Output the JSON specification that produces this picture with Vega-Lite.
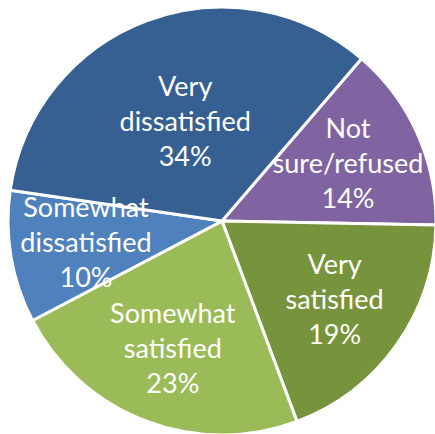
{
  "$schema": "https://vega.github.io/schema/vega-lite/v6.json",
  "width": 426,
  "height": 426,
  "autosize": {"type": "none"},
  "padding": {"left": 9, "top": 8, "right": 0, "bottom": 0},
  "background": "white",
  "data": {
    "values": [
      {"category": "Not sure/refused", "pct": 14, "rank": 1, "label": ["Not", "sure/refused", "14%"]},
      {"category": "Very satisfied", "pct": 19, "rank": 2, "label": ["Very", "satisfied", "19%"]},
      {"category": "Somewhat satisfied", "pct": 23, "rank": 3, "label": ["Somewhat", "satisfied", "23%"]},
      {"category": "Somewhat dissatisfied", "pct": 10, "rank": 4, "label": ["Somewhat", "dissatisfied", "10%"]},
      {"category": "Very dissatisfied", "pct": 34, "rank": 5, "label": ["Very", "dissatisfied", "34%"]}
    ]
  },
  "encoding": {
    "theta": {"field": "pct", "type": "quantitative", "stack": true, "scale": {"range": [0.71, 6.9932]}},
    "order": {"field": "rank", "type": "quantitative", "sort": "ascending"},
    "color": {
      "field": "category",
      "type": "nominal",
      "scale": {
        "domain": ["Not sure/refused", "Very satisfied", "Somewhat satisfied", "Somewhat dissatisfied", "Very dissatisfied"],
        "range": ["#8064A2", "#77933C", "#9BBB59", "#4F81BD", "#376092"]
      },
      "legend": null
    }
  },
  "layer": [
    {"mark": {"type": "arc", "outerRadius": 214, "stroke": "white", "strokeWidth": 3}},
    {
      "mark": {"type": "text", "radius": 138, "dy": -35, "font": "Lato", "fontSize": 27, "lineHeight": 35, "align": "center", "baseline": "middle"},
      "encoding": {
        "text": {"field": "label", "condition": {"test": "datum.category === 'Very dissatisfied'", "value": ""}},
        "fill": {"value": "white"}
      }
    },
    {
      "mark": {"type": "text", "radius": 105, "dy": -35, "font": "Lato", "fontSize": 27, "lineHeight": 35, "align": "center", "baseline": "middle"},
      "encoding": {
        "text": {"field": "label", "condition": {"test": "datum.category !== 'Very dissatisfied'", "value": ""}},
        "fill": {"value": "white"}
      }
    }
  ]
}
